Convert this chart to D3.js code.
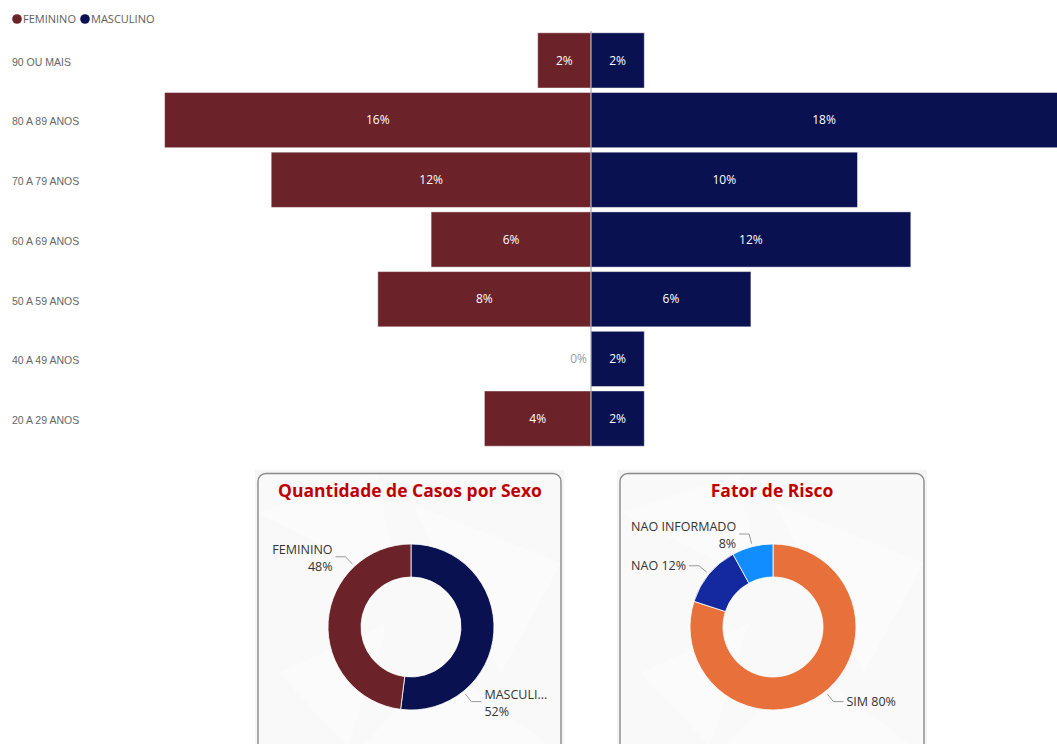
<!DOCTYPE html>
<html>
<head>
<meta charset="utf-8">
<script src="https://cdn.jsdelivr.net/npm/d3@7"></script>
<style>
  html, body { margin: 0; padding: 0; background: #fff; overflow: hidden; }
  svg { display: block; font-family: "Segoe UI", "Open Sans", "DejaVu Sans", sans-serif; }
</style>
</head>
<body>
<svg id="chart" width="1057" height="744"></svg>
<script>
// faixa etária (top to bottom)
const ageGroups = ["90 OU MAIS", "80 A 89 ANOS", "70 A 79 ANOS", "60 A 69 ANOS", "50 A 59 ANOS", "40 A 49 ANOS", "20 A 29 ANOS"];
const femininoPct = [2, 16, 12, 6, 8, 0, 4];
const masculinoPct = [2, 18, 10, 12, 6, 2, 2];

const sexoLabels = ["MASCULINO", "FEMININO"];
const sexoValues = [52, 48];

const riscoLabels = ["SIM", "NAO", "NAO INFORMADO"];
const riscoValues = [80, 12, 8];

const svg = d3.select("#chart");
const COL_F = "#6b2228", COL_M = "#0a1150";

// ---------- legend ----------
const legend = svg.append("g").attr("font-size", 11).attr("fill", "#605e5c");
[["FEMININO", COL_F, 17], ["MASCULINO", COL_M, 85]].forEach(([t, c, x]) => {
  legend.append("circle").attr("cx", x).attr("cy", 19).attr("r", 4.8).attr("fill", c);
  legend.append("text").attr("x", x + 6).attr("y", 19).attr("dy", "0.35em").attr("fill", "#605e5c").text(t);
});

// ---------- pyramid ----------
const mid = 591;
const pxPerPct = 26.65;
const xF = d3.scaleLinear().domain([0, 16]).range([mid, mid - 16 * pxPerPct]);
const xM = d3.scaleLinear().domain([0, 16]).range([mid, mid + 16 * pxPerPct]);
const y = d3.scaleBand().domain(ageGroups).range([31, 448]).paddingInner(0.075).paddingOuter(0.03);

const rows = ageGroups.map((g, i) => ({ g, f: femininoPct[i], m: masculinoPct[i] }));

const yAxis = svg.append("g")
  .attr("transform", "translate(12,2)")
  .call(d3.axisRight(y).tickSize(0).tickPadding(0));
yAxis.select(".domain").remove();
yAxis.selectAll("text").attr("font-size", 10.5).attr("fill", "#666").attr("font-family", "inherit");

const bars = svg.append("g");
bars.selectAll("rect.f").data(rows.filter(d => d.f > 0)).join("rect")
  .attr("x", d => xF(d.f)).attr("width", d => xF(0) - xF(d.f))
  .attr("y", d => y(d.g)).attr("height", y.bandwidth())
  .attr("fill", COL_F).attr("stroke", "rgba(255,255,255,0.45)").attr("stroke-width", 1);
bars.selectAll("rect.m").data(rows.filter(d => d.m > 0)).join("rect")
  .attr("x", mid).attr("width", d => xM(d.m) - mid)
  .attr("y", d => y(d.g)).attr("height", y.bandwidth())
  .attr("fill", COL_M).attr("stroke", "rgba(255,255,255,0.45)").attr("stroke-width", 1);

svg.append("line").attr("x1", mid).attr("x2", mid).attr("y1", 31).attr("y2", 446)
  .attr("stroke", "#999").attr("stroke-width", 1);

const vl = svg.append("g").attr("font-size", 12);
rows.forEach(d => {
  const cy = y(d.g) + y.bandwidth() / 2;
  if (d.f > 0) {
    vl.append("text").attr("x", (xF(d.f) + mid) / 2).attr("y", cy).attr("dy", "0.35em")
      .attr("text-anchor", "middle").attr("fill", "#fff").text(d.f + "%");
  } else {
    vl.append("text").attr("x", mid - 4).attr("y", cy).attr("dy", "0.35em")
      .attr("text-anchor", "end").attr("fill", "#999").text("0%");
  }
  const right = Math.min(xM(d.m), 1057);
  vl.append("text").attr("x", (mid + right) / 2).attr("y", cy).attr("dy", "0.35em")
    .attr("text-anchor", "middle").attr("fill", "#fff").text(d.m + "%");
});

// ---------- donut cards ----------
function card(x, w, title, cx) {
  const g = svg.append("g");
  g.append("rect").attr("x", x - 3).attr("y", 470).attr("width", w + 6).attr("height", 280).attr("fill", "#f5f5f5");
  // faint triangles in the background
  const tri = [[0, 40, 120, 0, 140, 110], [w - 150, 30, w, 90, w - 60, 200], [20, 200, 130, 150, 90, 274], [w - 120, 190, w - 10, 274, w - 200, 274]];
  g.selectAll("polygon").data(tri).join("polygon")
    .attr("points", p => [[x + p[0], 473 + p[1]], [x + p[2], 473 + p[3]], [x + p[4], 473 + p[5]]].map(q => q.join(",")).join(" "))
    .attr("fill", "#f9f9f9");
  g.append("rect").attr("x", x).attr("y", 473.5).attr("width", w).attr("height", 300).attr("rx", 8)
    .attr("fill", "rgba(252,252,252,0.6)").attr("stroke", "#8a8a8a").attr("stroke-width", 1.4);
  g.append("text").attr("x", cx).attr("y", 491).attr("dy", "0.35em").attr("text-anchor", "middle")
    .attr("font-size", 17.5).attr("font-weight", "bold").attr("fill", "#c00000").text(title);
  return g;
}

function donut(g, cx, cy, labels, values, colors, labelSpec) {
  const R = 83, r = 50;
  const pie = d3.pie().sort(null).value(d => d.v);
  const arcs = pie(labels.map((l, i) => ({ l, v: values[i] })));
  const arc = d3.arc().innerRadius(r).outerRadius(R);
  const gg = g.append("g").attr("transform", `translate(${cx},${cy})`);
  gg.selectAll("path").data(arcs).join("path").attr("d", arc)
    .attr("fill", (d, i) => colors[i]).attr("stroke", "#fff").attr("stroke-width", 0.8);

  const polar = (rad, a) => [rad * Math.sin(a), -rad * Math.cos(a)];
  arcs.forEach((d, i) => {
    const spec = labelSpec[i];
    const a = spec.angle != null ? spec.angle * Math.PI / 180 : (d.startAngle + d.endAngle) / 2;
    const p1 = polar(R + 3, a), p2 = polar(R + 13, a);
    const side = Math.sin(a) >= 0 ? 1 : -1;
    const p3 = [p2[0] + side * 10, p2[1]];
    gg.append("polyline").attr("points", [p1, p2, p3].map(p => p.join(",")).join(" "))
      .attr("fill", "none").attr("stroke", "#999").attr("stroke-width", 1);
    const t = gg.append("text").attr("font-size", 12.5).attr("fill", "#333")
      .attr("text-anchor", side > 0 ? "start" : "end");
    const tx = p3[0] + side * 3;
    if (spec.lines.length === 1) {
      t.append("tspan").attr("x", tx).attr("y", p3[1]).attr("dy", "0.35em").text(spec.lines[0]);
    } else {
      t.append("tspan").attr("x", tx).attr("y", p3[1] - 3).text(spec.lines[0]);
      t.append("tspan").attr("x", tx).attr("y", p3[1] + 14).text(spec.lines[1]);
    }
  });
}

const g1 = card(258, 303, "Quantidade de Casos por Sexo", 410);
donut(g1, 411, 627, sexoLabels, sexoValues, [COL_M, COL_F], [
  { angle: 141, lines: ["MASCULI...", sexoValues[0] + "%"] },
  { angle: 317, lines: ["FEMININO", sexoValues[1] + "%"] }
]);

const g2 = card(620, 304, "Fator de Risco", 772);
donut(g2, 773, 627, riscoLabels, riscoValues, ["#e8703a", "#1428a0", "#118dff"], [
  { angle: 141, lines: ["SIM " + riscoValues[0] + "%"] },
  { lines: ["NAO " + riscoValues[1] + "%"] },
  { lines: ["NAO INFORMADO", riscoValues[2] + "%"] }
]);
</script>
</body>
</html>
